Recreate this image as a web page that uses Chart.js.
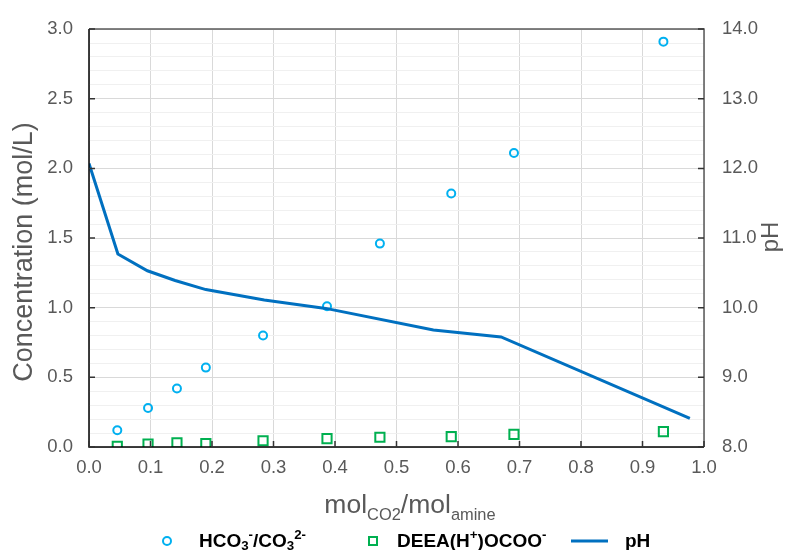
<!DOCTYPE html>
<html>
<head>
<meta charset="utf-8">
<script src="https://cdn.jsdelivr.net/npm/chart.js@4"></script>
<style>
  html, body { margin: 0; padding: 0; background: #fff; }
  #wrap { width: 795px; height: 550px; }
</style>
</head>
<body>
<div id="wrap"><canvas id="myChart" width="795" height="550"></canvas></div>
<script>
// measured loading (mol CO2 / mol amine)
var loading = [0.046, 0.096, 0.143, 0.19, 0.283, 0.387, 0.473, 0.589, 0.691, 0.934];
var hco3 = [0.12, 0.28, 0.42, 0.57, 0.80, 1.01, 1.46, 1.82, 2.11, 2.91];
var deea = [0.005, 0.02, 0.03, 0.025, 0.045, 0.06, 0.07, 0.075, 0.09, 0.11];
// pH curve
var phLoading = [0.0, 0.047, 0.095, 0.14, 0.19, 0.285, 0.385, 0.56, 0.67, 0.977];
var phValues = [12.07, 10.77, 10.53, 10.39, 10.26, 10.11, 9.99, 9.68, 9.58, 8.41];

var grey = '#595959';
var tickFont = { family: '"Liberation Sans", Arial, sans-serif', size: 18.5 };

function pts(xs, ys) {
  return xs.map(function (x, i) { return { x: x, y: ys[i] }; });
}

// text made of pieces, some sub/superscript
function richWidth(ctx, parts, size, weight, sc) {
  var w = 0;
  parts.forEach(function (p) {
    var s = p[1] ? size * sc : size;
    ctx.font = weight + ' ' + s + 'px "Liberation Sans", Arial, sans-serif';
    w += ctx.measureText(p[0]).width;
  });
  return w;
}
function drawRich(ctx, parts, x, y, size, weight, color, sc, subDy) {
  ctx.fillStyle = color;
  ctx.textBaseline = 'alphabetic';
  ctx.textAlign = 'left';
  parts.forEach(function (p) {
    var s = p[1] ? size * sc : size;
    var dy = p[1] === 'sub' ? size * subDy : (p[1] === 'sup' ? -size * 0.38 : 0);
    ctx.font = weight + ' ' + s + 'px "Liberation Sans", Arial, sans-serif';
    ctx.fillText(p[0], x, y + dy);
    x += ctx.measureText(p[0]).width;
  });
}

var extras = {
  id: 'extras',
  afterDraw: function (chart) {
    var ctx = chart.ctx, a = chart.chartArea;
    var xs = chart.scales.x, ys = chart.scales.y, y2 = chart.scales.y2;
    ctx.save();
    // frame
    ctx.lineWidth = 1.5;
    ctx.strokeStyle = grey;
    ctx.beginPath();
    ctx.moveTo(a.left, a.top); ctx.lineTo(a.right, a.top); ctx.lineTo(a.right, a.bottom);
    ctx.stroke();
    ctx.strokeStyle = '#000';
    ctx.beginPath();
    ctx.moveTo(a.left, a.top); ctx.lineTo(a.left, a.bottom); ctx.lineTo(a.right, a.bottom);
    ctx.stroke();
    // inward tick marks
    ctx.strokeStyle = '#333';
    ctx.beginPath();
    for (var i = 0; i <= 10; i++) {
      var px = xs.getPixelForValue(i / 10);
      ctx.moveTo(px, a.bottom); ctx.lineTo(px, a.bottom - 6);
    }
    for (var j = 0; j <= 6; j++) {
      var py = ys.getPixelForValue(j * 0.5);
      ctx.moveTo(a.left, py); ctx.lineTo(a.left + 6, py);
      var py2 = y2.getPixelForValue(8 + j);
      ctx.moveTo(a.right, py2); ctx.lineTo(a.right - 6, py2);
    }
    ctx.stroke();

    // axis titles
    ctx.fillStyle = grey;
    ctx.textAlign = 'center';
    ctx.textBaseline = 'middle';
    ctx.font = '27px "Liberation Sans", Arial, sans-serif';
    ctx.save();
    ctx.translate(25, 252);
    ctx.rotate(-Math.PI / 2);
    ctx.fillText('Concentration (mol/L)', 0, 0);
    ctx.restore();
    ctx.font = '24px "Liberation Sans", Arial, sans-serif';
    ctx.save();
    ctx.translate(771, 237);
    ctx.rotate(-Math.PI / 2);
    ctx.fillText('pH', 0, 0);
    ctx.restore();

    var xt = [['mol'], ['CO2', 'sub'], ['/mol'], ['amine', 'sub']];
    var w = richWidth(ctx, xt, 26.5, 'normal', 0.62);
    drawRich(ctx, xt, 410 - w / 2, 513, 26.5, 'normal', grey, 0.62, 0.28);

    // legend
    var ly = 541;
    ctx.lineWidth = 2;
    ctx.strokeStyle = '#00b0f0';
    ctx.beginPath();
    ctx.arc(167, ly, 4, 0, Math.PI * 2);
    ctx.stroke();
    drawRich(ctx, [['HCO'], ['3', 'sub'], ['-', 'sup'], ['/CO'], ['3', 'sub'], ['2-', 'sup']], 199, ly + 5.5, 19, 'bold', '#000', 0.7, 0.16);
    ctx.strokeStyle = '#00b050';
    ctx.strokeRect(369, ly - 4, 8, 8);
    drawRich(ctx, [['DEEA(H'], ['+', 'sup'], [')OCOO'], ['-', 'sup']], 397, ly + 5.5, 19, 'bold', '#000', 0.7, 0.16);
    ctx.strokeStyle = '#0070c0';
    ctx.lineWidth = 3;
    ctx.beginPath();
    ctx.moveTo(571, ly); ctx.lineTo(608, ly);
    ctx.stroke();
    drawRich(ctx, [['pH']], 625, ly + 5.5, 19, 'bold', '#000', 0.7, 0.16);
    ctx.restore();
  }
};

var ctx = document.getElementById('myChart').getContext('2d');
var chart = new Chart(ctx, {
  type: 'scatter',
  data: {
    datasets: [{
      label: 'pH',
      data: pts(phLoading, phValues),
      yAxisID: 'y2',
      showLine: true,
      borderColor: '#0070c0',
      borderWidth: 3,
      pointRadius: 0,
      tension: 0,
      order: 0
    }, {
      label: 'HCO3-/CO3 2-',
      data: pts(loading, hco3),
      yAxisID: 'y',
      pointStyle: 'circle',
      pointRadius: 4,
      borderWidth: 2,
      borderColor: '#00b0f0',
      backgroundColor: 'rgba(0,0,0,0)',
      order: 1
    }, {
      label: 'DEEA(H+)OCOO-',
      data: pts(loading, deea),
      yAxisID: 'y',
      pointStyle: 'rect',
      pointRadius: 6.5,
      borderWidth: 2,
      borderColor: '#00b050',
      backgroundColor: 'rgba(0,0,0,0)',
      order: 2
    }]
  },
  options: {
    responsive: false,
    animation: false,
    layout: { padding: { top: 25, left: 0, right: 0, bottom: 0 } },
    plugins: { legend: { display: false }, tooltip: { enabled: false } },
    scales: {
      x: {
        type: 'linear',
        min: 0, max: 1,
        afterFit: function (s) { s.height = 103; },
        ticks: {
          stepSize: 0.1, color: grey, font: tickFont, padding: 10, maxRotation: 0,
          callback: function (v) { return v.toFixed(1); }
        },
        grid: { color: '#d9d9d9', lineWidth: 1, drawTicks: false },
        border: { display: false }
      },
      y: {
        position: 'left',
        min: 0, max: 3,
        afterFit: function (s) { s.width = 89; },
        ticks: {
          stepSize: 0.1, autoSkip: false, color: grey, font: tickFont, padding: 16,
          callback: function (v) {
            var k = Math.round(v * 10);
            return k % 5 === 0 ? v.toFixed(1) : '';
          }
        },
        grid: {
          drawTicks: false,
          color: function (c) {
            var k = Math.round(c.tick.value * 10);
            return k % 5 === 0 ? '#d9d9d9' : '#f0f0f0';
          }
        },
        border: { display: false }
      },
      y2: {
        position: 'right',
        min: 8, max: 14,
        afterFit: function (s) { s.width = 91; },
        ticks: {
          stepSize: 1, color: grey, font: tickFont, padding: 18,
          callback: function (v) { return v.toFixed(1); }
        },
        grid: { drawOnChartArea: false, drawTicks: false },
        border: { display: false }
      }
    }
  },
  plugins: [extras]
});
</script>
</body>
</html>
